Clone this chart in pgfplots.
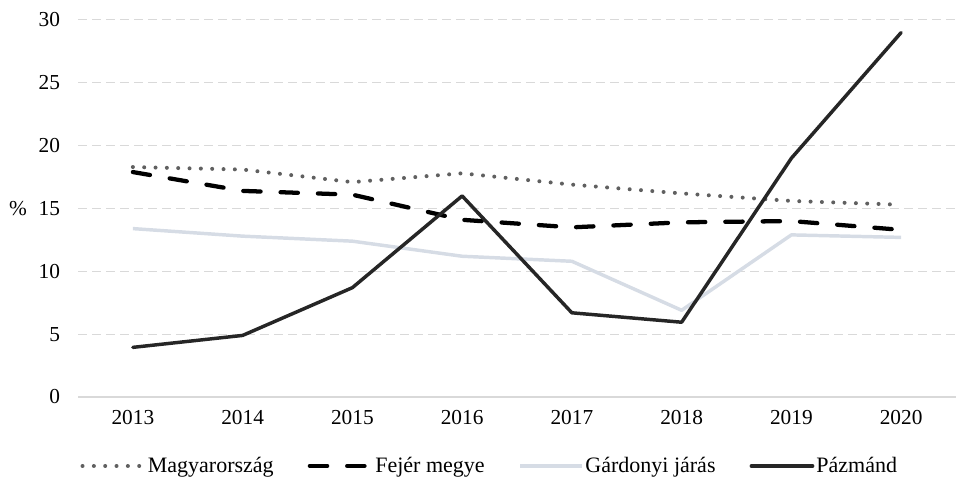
\documentclass[border=0pt]{standalone}
\usepackage{pgfplots}
\pgfplotsset{compat=1.18}
\usepackage{fontspec}
\setmainfont{Liberation Serif}
\definecolor{gridc}{HTML}{D9D9D9}
\definecolor{magc}{HTML}{606060}
\definecolor{gardc}{HTML}{D6DCE5}
\definecolor{pazc}{HTML}{262626}
\begin{document}
\begin{tikzpicture}
\useasboundingbox (0,0) rectangle (717pt,358.5pt);
\begin{axis}[
  at={(58.5pt,60.75pt)}, anchor=south west,
  scale only axis, width=658.5pt, height=282.75pt,
  xmin=-0.5, xmax=7.5, ymin=0, ymax=30,
  xtick={0,...,7}, xticklabels={2013,2014,2015,2016,2017,2018,2019,2020},
  ytick={5,10,...,30},
  extra y ticks={0},
  extra y tick style={grid style={solid, draw=gridc, line width=0.9pt}},
  ymajorgrids,
  grid style={draw=gridc, line width=0.75pt, dash pattern=on 6.5pt off 4pt},
  major tick length=0pt,
  axis line style={draw=none},
  /pgf/number format/assume math mode=true,
  tick label style={font=\fontsize{16}{19}\selectfont},
  yticklabel style={xshift=-10pt},
  xticklabel style={yshift=-6.5pt},
  ylabel={\%},
  ylabel style={rotate=-90, at={(axis description cs:0,0.5)}, anchor=center, xshift=-45pt, font=\fontsize{16}{19}\selectfont},
  legend columns=4,
  legend style={at={(axis description cs:0.469,-0.183)}, anchor=center, draw=none, fill=none,
    font=\fontsize{16.5}{19}\selectfont,
    nodes={inner sep=1.5pt},
    /tikz/every even column/.append style={column sep=24pt}},
  legend image code/.code={\draw[#1] (0pt,0pt) -- (46pt,0pt);},
]
\addplot[magc, line width=3pt, line cap=round, dash pattern=on 0pt off 8.5pt] coordinates {
 (0,18.3) (1,18.1) (2,17.1) (3,17.8) (4,16.9) (5,16.2) (6,15.6) (7,15.3)};
\addlegendentry{Magyarország}
\addplot[black, line width=3.2pt, line cap=round, dash pattern=on 13pt off 15pt] coordinates {
 (0,17.9) (1,16.4) (2,16.1) (3,14.1) (4,13.5) (5,13.9) (6,14.0) (7,13.3)};
\addlegendentry{Fejér megye}
\addplot[gardc, line width=2.6pt, line join=round] coordinates {
 (0,13.4) (1,12.8) (2,12.4) (3,11.2) (4,10.8) (5,6.9) (6,12.9) (7,12.7)};
\addlegendentry{Gárdonyi járás}
\addplot[pazc, line width=2.6pt, line join=round, line cap=round] coordinates {
 (0,3.95) (1,4.9) (2,8.7) (3,16.0) (4,6.7) (5,5.95) (6,19.0) (7,29.0)};
\addlegendentry{Pázmánd}
\end{axis}
\end{tikzpicture}
\end{document}
